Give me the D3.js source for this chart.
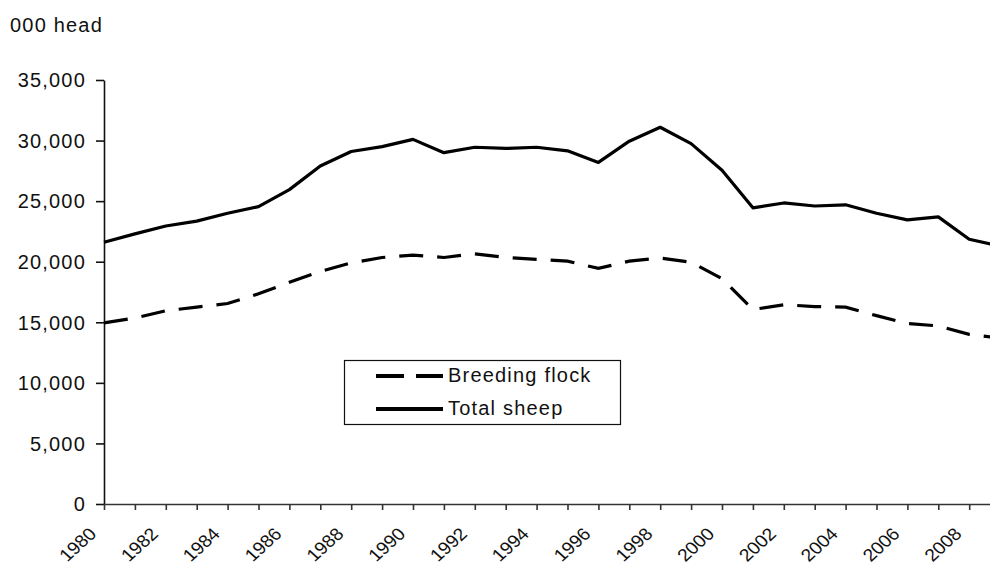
<!DOCTYPE html>
<html>
<head>
<meta charset="utf-8">
<script src="https://cdn.jsdelivr.net/npm/d3@7"></script>
<style>
  body { margin: 0; background: #fff; }
  svg { display: block; }
  text { font-family: "Liberation Sans", Arial, sans-serif; font-size: 20px; letter-spacing: 1.2px; fill: #111; }
</style>
</head>
<body>
<div id="chart"></div>
<script>
// years shown on the axis (one tick per year), labels on even years
var years = d3.range(1980, 2010);
var yearLabels = [1980, 1982, 1984, 1986, 1988, 1990, 1992, 1994, 1996, 1998, 2000, 2002, 2004, 2006, 2008];

// 000 head
var totalSheep = [21600, 22300, 22950, 23350, 24000, 24550, 25950, 27900, 29100, 29500,
                  30100, 29000, 29450, 29350, 29450, 29150, 28200, 29950, 31100, 29750,
                  27550, 24450, 24850, 24600, 24700, 24000, 23450, 23700, 21850, 21300];
var breedingFlock = [14950, 15350, 15950, 16250, 16550, 17350, 18300, 19200, 19900, 20350,
                     20550, 20350, 20650, 20350, 20200, 20050, 19450, 20050, 20300, 19950,
                     18600, 16050, 16450, 16300, 16250, 15550, 14900, 14700, 14000, 13700];

var yTicks = [0, 5000, 10000, 15000, 20000, 25000, 30000, 35000];
var seriesNames = ["Breeding flock", "Total sheep"];

var width = 990, height = 566;
var plotLeft = 104, plotTop = 80, plotBottom = 504;

var svg = d3.select("#chart").append("svg")
    .attr("width", width)
    .attr("height", height);

// last year falls just past the right edge, the picture is cropped there
var x = d3.scaleLinear()
    .domain([1980, 2009])
    .range([plotLeft, plotLeft + 29 * 30.9]);

var y = d3.scaleLinear()
    .domain([0, 35000])
    .range([plotBottom, plotTop]);

// unit label
svg.append("text")
    .attr("x", 10)
    .attr("y", 32)
    .text("000 head");

// y axis
var yAxis = svg.append("g")
    .attr("transform", "translate(" + plotLeft + ",0)")
    .call(d3.axisLeft(y)
        .tickValues(yTicks)
        .tickSize(8)
        .tickSizeOuter(0)
        .tickPadding(10)
        .tickFormat(d3.format(",")));
yAxis.select(".domain").attr("stroke", "#111").attr("stroke-width", 1.6);
yAxis.selectAll(".tick line").attr("stroke", "#111").attr("stroke-width", 1.6);
yAxis.selectAll(".tick text")
    .attr("dy", "0.34em")
    .style("font-size", "20px")
    .style("font-family", "'Liberation Sans', Arial, sans-serif")
    .attr("fill", "#111");

// x axis
var xAxis = svg.append("g")
    .attr("transform", "translate(0," + plotBottom + ")")
    .call(d3.axisBottom(x)
        .tickValues(years)
        .tickSize(6)
        .tickSizeOuter(0)
        .tickFormat(function(d){
            return yearLabels.indexOf(d) > -1 ? String(d) : "";
        }));
xAxis.select(".domain").attr("stroke", "#333").attr("stroke-width", 1.6);
xAxis.selectAll(".tick line").attr("stroke", "#333").attr("stroke-width", 1.6);
// the source picture is a little stretched sideways, so the slanted labels are too
xAxis.selectAll(".tick text")
    .attr("y", 0)
    .attr("dy", 0)
    .attr("text-anchor", "end")
    .attr("transform", "translate(-7,31) scale(1.1,1) rotate(-45)")
    .style("font-size", "17.5px")
    .style("letter-spacing", "0px")
    .style("font-family", "'Liberation Sans', Arial, sans-serif")
    .attr("fill", "#111");

var line = d3.line()
    .x(function(d, i){ return x(years[i]); })
    .y(function(d){ return y(d); });

svg.append("path")
    .datum(breedingFlock)
    .attr("d", line)
    .attr("fill", "none")
    .attr("stroke", "#000")
    .attr("stroke-width", 3.2)
    .attr("stroke-dasharray", "24,14");

svg.append("path")
    .datum(totalSheep)
    .attr("d", line)
    .attr("fill", "none")
    .attr("stroke", "#000")
    .attr("stroke-width", 3.2)
    .attr("stroke-linejoin", "round");

// legend
var legend = svg.append("g");
legend.append("rect")
    .attr("x", 344.5)
    .attr("y", 360.5)
    .attr("width", 276)
    .attr("height", 64)
    .attr("fill", "#fff")
    .attr("stroke", "#111")
    .attr("stroke-width", 1.2);

seriesNames.forEach(function(name, i){
    var ly = 376 + i * 33;
    legend.append("line")
        .attr("x1", 376)
        .attr("x2", 443)
        .attr("y1", ly)
        .attr("y2", ly)
        .attr("stroke", "#000")
        .attr("stroke-width", 4)
        .attr("stroke-dasharray", i == 0 ? "28,12" : null);
    legend.append("text")
        .attr("x", 448)
        .attr("y", ly + 6)
        .text(name);
});
</script>
</body>
</html>
